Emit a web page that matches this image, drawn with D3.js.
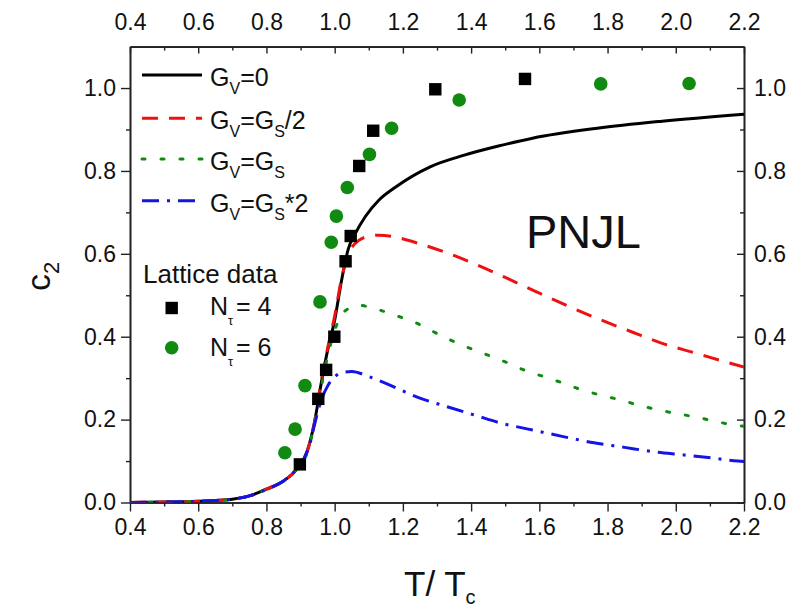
<!DOCTYPE html>
<html>
<head>
<meta charset="utf-8">
<script src="https://cdn.jsdelivr.net/npm/d3@7"></script>
<style>
  html, body { margin: 0; padding: 0; background: #fff; }
  svg { display: block; font-family: Arial, "Liberation Sans", sans-serif; }
</style>
</head>
<body>
<svg id="chart" width="798" height="612"></svg>
<script>
// PNJL second-order susceptibility c2 versus T/Tc for several vector couplings

// Shared low-temperature part of the model curves
const tLow = [0.40, 0.50, 0.60, 0.65, 0.70, 0.75, 0.80, 0.85, 0.89];
const cLow = [0.000, 0.001, 0.003, 0.005, 0.008, 0.016, 0.032, 0.052, 0.082];

// G_V = 0
const tGv0 = [0.92, 0.94, 0.96, 0.98, 1.00, 1.02, 1.04, 1.06, 1.09, 1.13, 1.18, 1.28, 1.38, 1.48, 1.58, 1.77, 1.96, 2.20];
const cGv0 = [0.125, 0.19, 0.285, 0.37, 0.44, 0.535, 0.612, 0.648, 0.69, 0.73, 0.762, 0.81, 0.838, 0.86, 0.879, 0.903, 0.92, 0.937];

// G_V = G_S/2
const tHalf = [0.92, 0.94, 0.96, 0.98, 1.00, 1.02, 1.04, 1.07, 1.10, 1.13, 1.18, 1.23, 1.32, 1.41, 1.50, 1.59, 1.69, 1.77, 1.87, 1.96, 2.06, 2.16, 2.20];
const cHalf = [0.125, 0.19, 0.29, 0.375, 0.45, 0.54, 0.598, 0.632, 0.642, 0.645, 0.640, 0.629, 0.605, 0.576, 0.543, 0.509, 0.472, 0.444, 0.412, 0.384, 0.360, 0.336, 0.327];

// G_V = G_S
const tOne = [0.92, 0.94, 0.96, 0.98, 1.00, 1.02, 1.045, 1.07, 1.12, 1.18, 1.24, 1.29, 1.34, 1.40, 1.46, 1.51, 1.56, 1.62, 1.67, 1.72, 1.78, 1.84, 1.89, 1.94, 2.00, 2.06, 2.12, 2.17, 2.20];
const cOne = [0.122, 0.185, 0.275, 0.355, 0.415, 0.452, 0.470, 0.476, 0.467, 0.451, 0.433, 0.412, 0.392, 0.371, 0.352, 0.336, 0.318, 0.302, 0.288, 0.273, 0.259, 0.247, 0.235, 0.225, 0.215, 0.206, 0.195, 0.187, 0.184];

// G_V = 2 G_S
const tTwo = [0.91, 0.93, 0.94, 0.96, 0.98, 1.00, 1.02, 1.05, 1.10, 1.16, 1.24, 1.33, 1.41, 1.49, 1.58, 1.67, 1.76, 1.85, 1.93, 2.02, 2.11, 2.17, 2.20];
const cTwo = [0.105, 0.15, 0.185, 0.245, 0.282, 0.303, 0.313, 0.316, 0.304, 0.284, 0.255, 0.231, 0.211, 0.191, 0.175, 0.159, 0.144, 0.133, 0.123, 0.115, 0.107, 0.101, 0.099];

// Lattice data, N_tau = 4
const tN4 = [0.898, 0.952, 0.975, 0.999, 1.032, 1.047, 1.072, 1.113, 1.295, 1.558];
const cN4 = [0.092, 0.250, 0.320, 0.400, 0.582, 0.643, 0.812, 0.897, 0.997, 1.022];

// Lattice data, N_tau = 6
const tN6 = [0.854, 0.884, 0.913, 0.957, 0.990, 1.005, 1.037, 1.102, 1.167, 1.365, 1.780, 2.039];
const cN6 = [0.120, 0.177, 0.282, 0.484, 0.628, 0.691, 0.760, 0.840, 0.903, 0.971, 1.010, 1.011];

// Axis ticks
const xMajor = [0.4, 0.6, 0.8, 1.0, 1.2, 1.4, 1.6, 1.8, 2.0, 2.2];
const xMinor = [0.5, 0.7, 0.9, 1.1, 1.3, 1.5, 1.7, 1.9, 2.1];
const yMajor = [0.0, 0.2, 0.4, 0.6, 0.8, 1.0];
const yMinor = [0.1, 0.3, 0.5, 0.7, 0.9];

const series = [
  { name: "0",    t: tLow.concat(tGv0),  c: cLow.concat(cGv0),  color: "#000000", dash: null,        width: 3 },
  { name: "half", t: tLow.concat(tHalf), c: cLow.concat(cHalf), color: "#ee1111", dash: "16,11",     width: 3 },
  { name: "one",  t: tLow.concat(tOne),  c: cLow.concat(cOne),  color: "#108a10", dash: "3,16",      width: 3 },
  { name: "two",  t: tLow.concat(tTwo),  c: cLow.concat(cTwo),  color: "#1414e6", dash: "17,8,3,8",  width: 3 }
];

const svg = d3.select("#chart");
svg.append("rect").attr("width", 798).attr("height", 612).attr("fill", "#fff");

const x = d3.scaleLinear().domain([0.4, 2.2]).range([130, 744]);
const y = d3.scaleLinear().domain([0, 1.1]).range([502.5, 46.6]);

const fmt = d3.format(".1f");
const tickFont = "23px";

// Axes: bottom/left ticks point outward, top/right point inward
function styleAxis(g) {
  g.selectAll("path.domain").attr("stroke", "#222").attr("stroke-width", 1.6);
  g.selectAll(".tick line").attr("stroke", "#222").attr("stroke-width", 1.4);
  g.selectAll(".tick text").attr("fill", "#111").style("font-size", tickFont)
    .style("font-family", "Arial, 'Liberation Sans', sans-serif");
}

// minor ticks first (no labels)
svg.append("g").attr("transform", "translate(0,502.5)")
  .call(d3.axisBottom(x).tickValues(xMinor).tickSize(4).tickFormat("").tickSizeOuter(0)).call(styleAxis);
svg.append("g").attr("transform", "translate(0,46.6)")
  .call(d3.axisTop(x).tickValues(xMinor).tickSize(-4).tickFormat("").tickSizeOuter(0)).call(styleAxis);
svg.append("g").attr("transform", "translate(130,0)")
  .call(d3.axisLeft(y).tickValues(yMinor).tickSize(4).tickFormat("").tickSizeOuter(0)).call(styleAxis);
svg.append("g").attr("transform", "translate(744,0)")
  .call(d3.axisRight(y).tickValues(yMinor).tickSize(-4).tickFormat("").tickSizeOuter(0)).call(styleAxis);

svg.append("g").attr("transform", "translate(0,502.5)")
  .call(d3.axisBottom(x).tickValues(xMajor).tickFormat(fmt).tickSize(9).tickPadding(7).tickSizeOuter(0)).call(styleAxis);
svg.append("g").attr("transform", "translate(0,46.6)")
  .call(d3.axisTop(x).tickValues(xMajor).tickFormat(fmt).tickSize(-7).tickPadding(16.5).tickSizeOuter(0)).call(styleAxis);
svg.append("g").attr("transform", "translate(130,0)")
  .call(d3.axisLeft(y).tickValues(yMajor).tickFormat(fmt).tickSize(9).tickPadding(5).tickSizeOuter(0)).call(styleAxis);
svg.append("g").attr("transform", "translate(744,0)")
  .call(d3.axisRight(y).tickValues(yMajor).tickFormat(fmt).tickSize(-7).tickPadding(10).tickSizeOuter(0)).call(styleAxis);

// clip for curves
svg.append("clipPath").attr("id", "plotClip")
  .append("rect").attr("x", 130).attr("y", 46.6).attr("width", 614).attr("height", 455.9);

const line = d3.line()
  .x(d => x(d[0])).y(d => y(d[1]))
  .curve(d3.curveMonotoneX);

// curves drawn in legend order, so the dash-dot one ends up on top
const curves = svg.append("g").attr("clip-path", "url(#plotClip)");
series.forEach(s => {
  curves.append("path")
    .datum(d3.zip(s.t, s.c))
    .attr("d", line)
    .attr("fill", "none")
    .attr("stroke", s.color)
    .attr("stroke-width", s.width)
    .attr("stroke-dasharray", s.dash)
    .attr("stroke-linecap", s.name === "one" ? "round" : "butt");
});

// lattice points
const green = "#108a10";
svg.append("g").selectAll("circle").data(d3.zip(tN6, cN6)).join("circle")
  .attr("cx", d => x(d[0])).attr("cy", d => y(d[1])).attr("r", 6.8).attr("fill", green);
svg.append("g").selectAll("rect").data(d3.zip(tN4, cN4)).join("rect")
  .attr("x", d => x(d[0]) - 6.2).attr("y", d => y(d[1]) - 6.2)
  .attr("width", 12.4).attr("height", 12.4).attr("fill", "#000");

// legend
const legend = svg.append("g").style("font-size", "25px").attr("fill", "#111");
const rows = [
  { s: series[0], yy: 75,    parts: [["G", 0], ["V", 1], ["=0", 0]] },
  { s: series[1], yy: 118.3, parts: [["G", 0], ["V", 1], ["=G", 0], ["S", 1], ["/2", 0]] },
  { s: series[2], yy: 159,   parts: [["G", 0], ["V", 1], ["=G", 0], ["S", 1]] },
  { s: series[3], yy: 200.7, parts: [["G", 0], ["V", 1], ["=G", 0], ["S", 1], ["*2", 0]] }
];
rows.forEach(r => {
  legend.append("line")
    .attr("x1", 142).attr("x2", 202).attr("y1", r.yy).attr("y2", r.yy)
    .attr("stroke", r.s.color).attr("stroke-width", r.s.width)
    .attr("stroke-dasharray", r.s.dash)
    .attr("stroke-linecap", r.s.name === "one" ? "round" : "butt");
  const t = legend.append("text").attr("x", 210).attr("y", r.yy + 11);
  let sub = 0;
  r.parts.forEach(p => {
    const dy = (p[1] - sub) * 8;
    sub = p[1];
    t.append("tspan").attr("dy", dy).style("font-size", p[1] ? "16px" : "25px").text(p[0]);
  });
});

legend.append("text").attr("x", 143).attr("y", 283.3).style("font-size", "26px").text("Lattice data");
legend.append("rect").attr("x", 171.7 - 6.2).attr("y", 308 - 6.2).attr("width", 12.4).attr("height", 12.4).attr("fill", "#000");
legend.append("circle").attr("cx", 171.7).attr("cy", 347.7).attr("r", 6.8).attr("fill", green);

[["4", 315], ["6", 356]].forEach(([n, base]) => {
  const t = legend.append("text").attr("x", 210).attr("y", base);
  t.append("tspan").text("N");
  t.append("tspan").attr("dy", 10).style("font-size", "13px").text("\u03c4");
  legend.append("text").attr("x", 236).attr("y", base).text("= " + n);
});

// PNJL label
svg.append("text").attr("x", 526).attr("y", 248).style("font-size", "47px").attr("fill", "#111").text("PNJL");

// axis titles
const xt = svg.append("text").attr("x", 404).attr("y", 596).style("font-size", "35px").attr("fill", "#111");
xt.append("tspan").text("T/ T");
xt.append("tspan").attr("dy", 8).style("font-size", "20px").text("c");

const yt = svg.append("text").attr("transform", "translate(50,291) rotate(-90)").style("font-size", "34px").attr("fill", "#111");
yt.append("tspan").text("c");
yt.append("tspan").attr("dy", 9).style("font-size", "22px").text("2");
</script>
</body>
</html>
